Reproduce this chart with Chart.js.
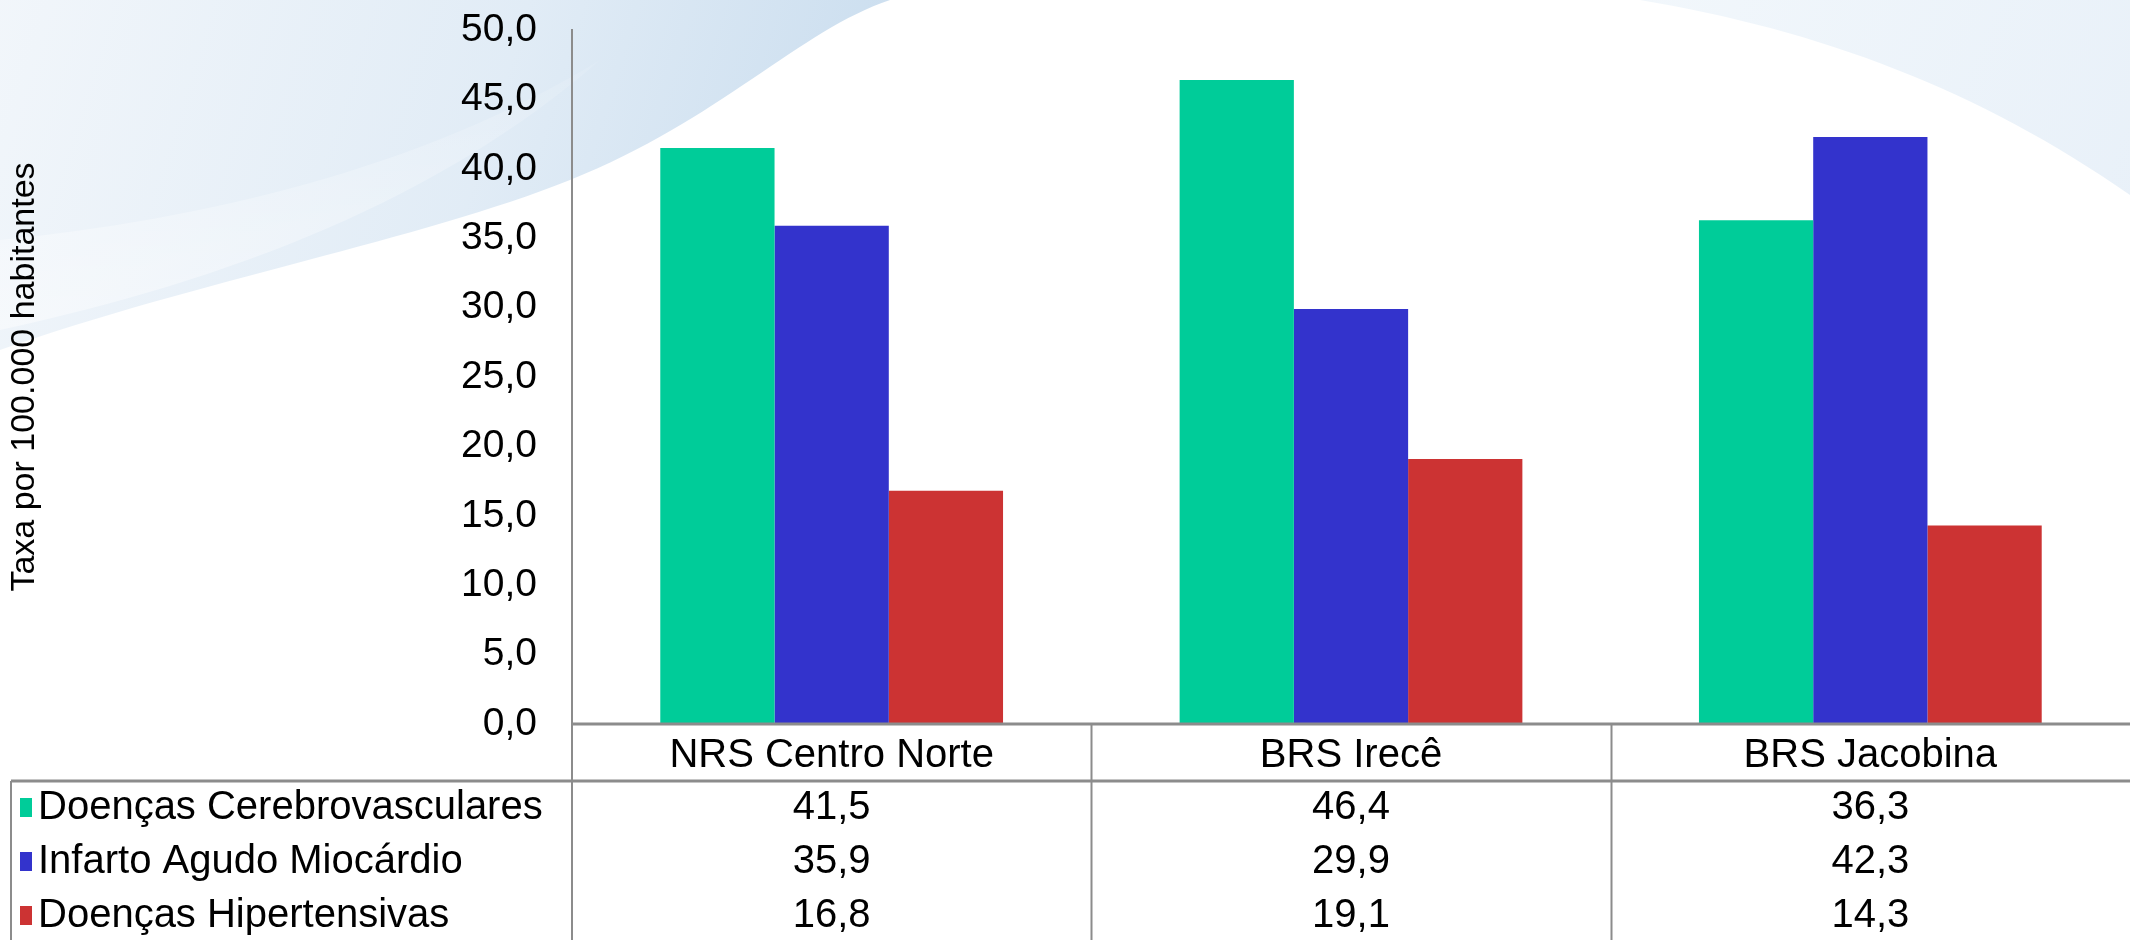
<!DOCTYPE html>
<html>
<head>
<meta charset="utf-8">
<script src="https://cdn.jsdelivr.net/npm/chart.js@4/dist/chart.umd.min.js"></script>
<style>
  html, body { margin: 0; padding: 0; background: #ffffff; }
  #wrap { width: 2130px; height: 940px; }
</style>
</head>
<body>
<div id="wrap"><canvas id="chart" width="2130" height="940"></canvas></div>
<script>
// Data
const categories = ['NRS Centro Norte', 'BRS Irecê', 'BRS Jacobina'];
const seriesNames = ['Doenças Cerebrovasculares', 'Infarto Agudo Miocárdio', 'Doenças Hipertensivas'];
const cerebrovasculares = [41.5, 46.4, 36.3];
const infarto = [35.9, 29.9, 42.3];
const hipertensivas = [16.8, 19.1, 14.3];
const seriesColors = ['#00CC99', '#3333CC', '#CC3333'];
const yTicks = [0, 5, 10, 15, 20, 25, 30, 35, 40, 45, 50];

const FONT = '"Liberation Sans", Arial, sans-serif';
const LINE = '#8c8c8c';

function fmt(v) {
    return v.toFixed(1).replace('.', ',');
}

// Light blue decorative swooshes behind the chart
const backgroundPlugin = {
    id: 'background',
    beforeDraw(chart) {
        const ctx = chart.ctx;
        ctx.save();
        ctx.fillStyle = '#ffffff';
        ctx.fillRect(0, 0, chart.width, chart.height);

        // top-left wave
        let g = ctx.createLinearGradient(0, 0, 800, 250);
        g.addColorStop(0, 'rgba(240,245,250,0.9)');
        g.addColorStop(0.6, 'rgba(222,234,245,0.9)');
        g.addColorStop(1, 'rgba(200,220,238,0.9)');
        ctx.fillStyle = g;
        ctx.beginPath();
        ctx.moveTo(0, 0);
        ctx.lineTo(890, 0);
        ctx.bezierCurveTo(800, 30, 720, 120, 570, 180);
        ctx.bezierCurveTo(420, 240, 200, 280, 0, 350);
        ctx.closePath();
        ctx.fill();

        // soft lighter sweep inside it
        g = ctx.createLinearGradient(0, 0, 0, 320);
        g.addColorStop(0, 'rgba(255,255,255,0.0)');
        g.addColorStop(1, 'rgba(255,255,255,0.45)');
        ctx.fillStyle = g;
        ctx.beginPath();
        ctx.moveTo(0, 240);
        ctx.bezierCurveTo(200, 220, 420, 170, 600, 60);
        ctx.bezierCurveTo(440, 200, 230, 280, 0, 330);
        ctx.closePath();
        ctx.fill();

        // top-right wave
        g = ctx.createLinearGradient(1650, 0, 2130, 200);
        g.addColorStop(0, 'rgba(240,246,251,0.9)');
        g.addColorStop(1, 'rgba(230,239,248,0.9)');
        ctx.fillStyle = g;
        ctx.beginPath();
        ctx.moveTo(1640, 0);
        ctx.lineTo(2130, 0);
        ctx.lineTo(2130, 195);
        ctx.bezierCurveTo(1980, 90, 1820, 30, 1640, 0);
        ctx.closePath();
        ctx.fill();
        ctx.restore();
    }
};

// Data table below the plot, built from the same arrays and x scale
const tablePlugin = {
    id: 'dataTable',
    afterDraw(chart) {
        const ctx = chart.ctx;
        const area = chart.chartArea;
        const xs = chart.scales.x;
        const step = (area.right - area.left) / categories.length;
        const headTop = area.bottom;
        const headBottom = 781;
        const rowY = [808, 862, 916];
        const tableLeft = 11;

        ctx.save();
        ctx.strokeStyle = LINE;
        ctx.lineWidth = 3;
        ctx.beginPath();
        ctx.moveTo(area.left, headTop);
        ctx.lineTo(area.right, headTop);
        ctx.moveTo(tableLeft, headBottom);
        ctx.lineTo(area.right, headBottom);
        ctx.stroke();

        ctx.lineWidth = 2;
        ctx.beginPath();
        ctx.moveTo(area.left, headTop);
        ctx.lineTo(area.left, chart.height);
        for (let i = 1; i < categories.length; i++) {
            const x = Math.round(area.left + step * i) + 0.5;
            ctx.moveTo(x, headTop);
            ctx.lineTo(x, chart.height);
        }
        ctx.moveTo(tableLeft, headBottom);
        ctx.lineTo(tableLeft, chart.height);
        ctx.stroke();

        ctx.fillStyle = '#000000';
        ctx.font = '40px ' + FONT;
        ctx.textAlign = 'center';
        ctx.textBaseline = 'middle';
        categories.forEach((c, i) => {
            ctx.fillText(c, xs.getPixelForValue(i), 756);
        });

        chart.data.datasets.forEach((ds, r) => {
            ctx.fillStyle = ds.backgroundColor;
            ctx.fillRect(20, rowY[r] - 10, 12, 19);
            ctx.fillStyle = '#000000';
            ctx.textAlign = 'left';
            ctx.fillText(ds.label, 38, rowY[r]);
            ctx.textAlign = 'center';
            ds.data.forEach((v, i) => {
                ctx.fillText(fmt(v), xs.getPixelForValue(i), rowY[r]);
            });
        });
        ctx.restore();
    }
};

const ctx = document.getElementById('chart').getContext('2d');
const chart = new Chart(ctx, {
    type: 'bar',
    data: {
        labels: categories,
        datasets: [{
            label: seriesNames[0],
            data: cerebrovasculares,
            backgroundColor: seriesColors[0]
        }, {
            label: seriesNames[1],
            data: infarto,
            backgroundColor: seriesColors[1]
        }, {
            label: seriesNames[2],
            data: hipertensivas,
            backgroundColor: seriesColors[2]
        }]
    },
    options: {
        responsive: false,
        animation: false,
        devicePixelRatio: 1,
        layout: {
            padding: { top: 30, bottom: 216, left: 0, right: 0 }
        },
        datasets: {
            bar: {
                categoryPercentage: 0.66,
                barPercentage: 1.0,
                borderWidth: 0
            }
        },
        plugins: {
            legend: { display: false },
            tooltip: { enabled: false }
        },
        scales: {
            x: {
                display: false
            },
            y: {
                min: 0,
                max: 50,
                afterFit(scale) {
                    scale.width = 572;
                    scale.paddingTop = 0;
                    scale.paddingBottom = 0;
                },
                afterBuildTicks(scale) {
                    scale.ticks = yTicks.map(v => ({ value: v }));
                },
                grid: { display: false },
                border: { display: true, color: LINE, width: 2 },
                ticks: {
                    color: '#000000',
                    padding: 27,
                    font: { family: FONT, size: 39 },
                    callback: v => fmt(v)
                },
                title: {
                    display: true,
                    text: 'Taxa por 100.000 habitantes',
                    color: '#000000',
                    font: { family: FONT, size: 34 },
                    padding: { top: 4, bottom: 0 }
                }
            }
        }
    },
    plugins: [backgroundPlugin, tablePlugin]
});
</script>
</body>
</html>
